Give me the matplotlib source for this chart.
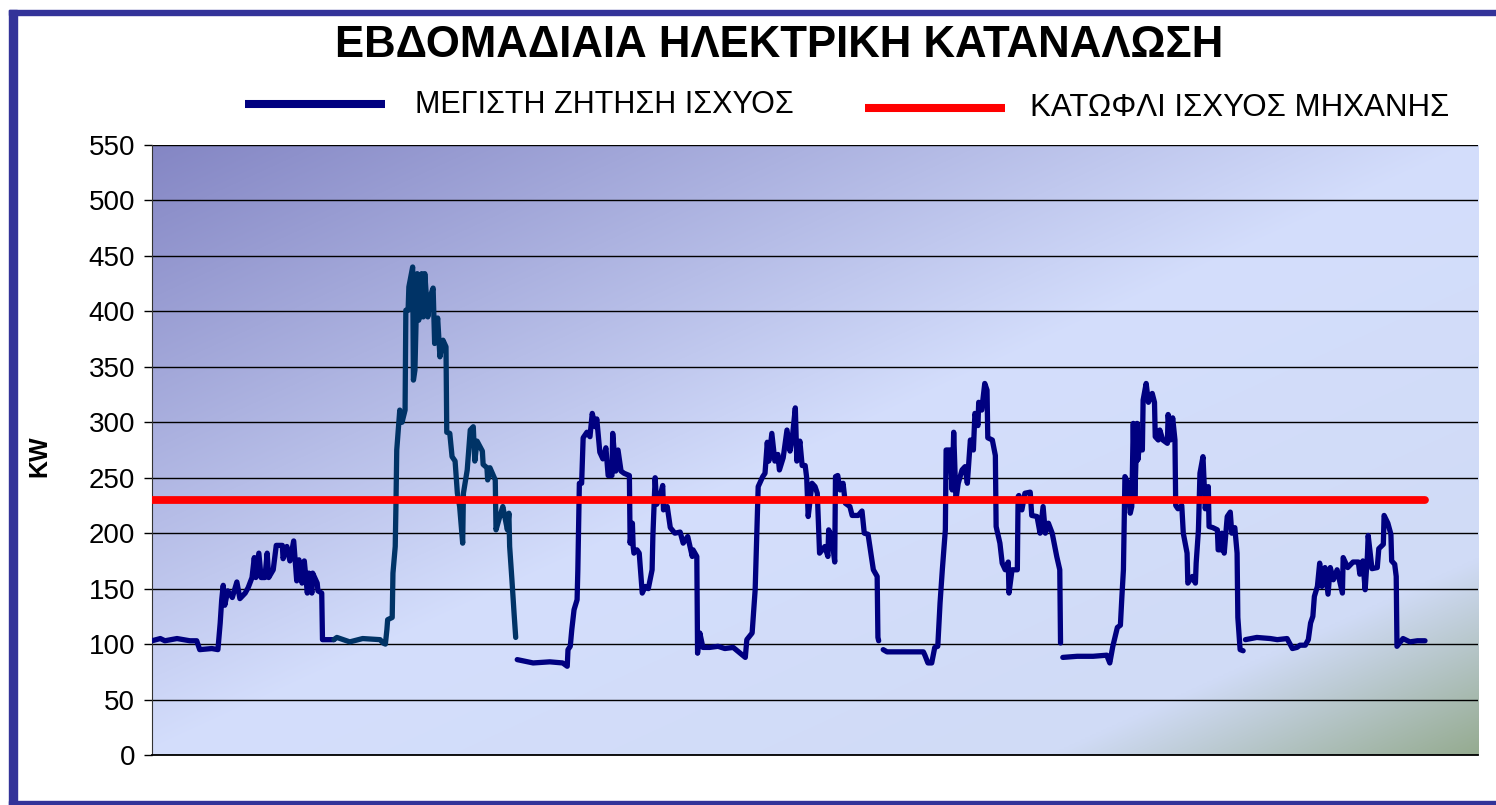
import numpy as np
import matplotlib
matplotlib.use("Agg")
import matplotlib.pyplot as plt
from matplotlib.lines import Line2D
from matplotlib.patches import Rectangle

plt.rcParams['font.family'] = ['Liberation Sans', 'DejaVu Sans']

TITLE = "ΕΒΔΟΜΑΔΙΑΙΑ ΗΛΕΚΤΡΙΚΗ ΚΑΤΑΝΑΛΩΣΗ"
NAME_DEMAND = "ΜΕΓΙΣΤΗ ΖΗΤΗΣΗ ΙΣΧΥΟΣ"
NAME_LIMIT = "ΚΑΤΩΦΛΙ ΙΣΧΥΟΣ ΜΗΧΑΝΗΣ"
Y_LABEL = "KW"
Y_TICKS = [0, 50, 100, 150, 200, 250, 300, 350, 400, 450, 500, 550]

# machine power threshold, drawn across the whole week
LIMIT_HOURS = [0, 168]
LIMIT_KW = [230, 230]

# max power demand, hours from start of week / kW, one pair per day
d1_h = [0.0, 1.1, 1.7, 3.3, 5.0, 5.9, 6.3, 7.9, 8.7, 9.0, 9.2, 9.4, 9.6, 10.0, 10.6,
        11.2, 11.6, 12.3, 12.7, 13.2, 13.5, 13.7, 14.1, 14.4, 14.9, 15.2, 15.4, 16.0,
        16.4, 17.2, 17.3, 17.8, 18.2, 18.7, 19.1, 19.4, 19.8, 20.1, 20.5, 20.7, 21.1,
        21.2, 21.8, 21.9, 22.4, 22.5, 24.0]
d1_kw = [103, 105, 103, 105, 103, 103, 95, 96, 95, 119, 140, 153, 135, 148, 142,
         156, 141, 146, 151, 160, 178, 160, 182, 160, 160, 182, 160, 167,
         189, 189, 177, 188, 175, 193, 157, 176, 155, 175, 146, 164, 146,
         164, 155, 148, 146, 104, 104]

d2_h = [24.0, 24.4, 26.1, 27.8, 30.1, 30.5, 30.8, 31.0, 31.1, 31.7, 31.8, 32.1, 32.2,
        32.3, 32.7, 33.0, 33.4, 33.5, 33.8, 33.9, 34.4, 34.5, 34.7, 35.0, 35.2, 35.6,
        35.8, 36.0, 36.4, 36.7, 37.1, 37.3, 37.7, 38.0, 38.4, 38.8, 38.9, 39.3, 39.6,
        40.0, 40.3, 40.6, 41.0, 41.1, 41.6, 42.0, 42.4, 42.6, 42.9, 43.6, 43.7, 44.2,
        44.3, 44.6, 45.3, 45.4, 45.9, 46.3, 46.9, 47.1, 47.2, 47.5, 47.8, 48.0]
d2_kw = [104, 106, 102, 105, 104, 101, 100, 113, 122, 124, 164, 188, 227,
         275, 311, 300, 311, 401, 401, 422, 440, 338, 347, 434, 392, 434,
         395, 434, 395, 413, 421, 371, 394, 359, 374, 368, 291, 290, 269,
         265, 236, 224, 191, 236, 257, 293, 296, 265, 283, 274, 262, 259,
         248, 259, 248, 203, 215, 224, 203, 218, 188, 158, 126, 106]

d3_h = [48.2, 50.3, 52.5, 54.2, 54.8, 54.9, 55.2, 55.4, 55.7, 56.1, 56.2, 56.4, 56.7,
        56.9, 57.4, 57.8, 58.1, 58.5, 58.7, 59.1, 59.5, 59.9, 60.2, 60.7, 60.8, 61.2,
        61.5, 61.9, 62.3, 63.0, 63.1, 63.4, 63.5, 63.6, 64.0, 64.3, 64.7, 65.1, 65.5,
        66.0, 66.1, 66.4, 66.6, 67.0, 67.4, 67.5, 68.0, 68.4, 69.0, 69.7, 70.1, 70.7,
        71.3, 71.4, 71.9, 72.0]
d3_kw = [86, 83, 84, 83, 80, 95, 98, 113, 131, 140, 167, 245, 245,
         286, 291, 287, 308, 296, 303, 273, 267, 277, 252, 252, 290, 256,
         275, 256, 254, 252, 191, 209, 188, 182, 185, 182, 146, 152, 150,
         167, 197, 250, 226, 232, 243, 221, 224, 205, 200, 201, 191, 197,
         179, 185, 179, 92]

d4_h = [72.0, 72.3, 72.7, 73.6, 74.7, 75.6, 76.7, 78.3, 78.5, 79.2, 79.6, 80.0, 80.6,
        80.9, 81.2, 81.4, 81.8, 82.2, 82.6, 82.8, 83.3, 83.8, 84.2, 84.5, 84.9, 85.1,
        85.5, 85.8, 86.2, 86.4, 86.6, 87.1, 87.5, 87.8, 88.1, 88.8, 89.2, 89.3, 89.7,
        90.1, 90.2, 90.5, 90.8, 91.2, 91.5, 92.1, 92.4, 93.2, 93.7, 94.0, 94.5, 95.0,
        95.2, 95.7, 95.8, 95.9]
d4_kw = [92, 110, 97, 97, 98, 96, 97, 88, 104, 110, 149, 242, 251,
         254, 282, 265, 290, 265, 271, 257, 268, 293, 274, 286, 313, 265,
         283, 261, 261, 250, 215, 245, 242, 236, 182, 188, 179, 203, 197,
         174, 251, 252, 239, 245, 227, 224, 216, 216, 220, 200, 199, 176,
         167, 161, 106, 103]

d5_h = [96.5, 97.0, 98.7, 100.0, 101.8, 102.0, 102.4, 102.9, 103.3, 103.7, 104.0,
        104.3, 104.7, 104.8, 105.3, 105.6, 105.8, 106.1, 106.4, 106.9, 107.3, 107.6,
        108.0, 108.4, 108.6, 109.0, 109.1, 109.5, 109.9, 110.2, 110.3, 110.9, 111.3,
        111.4, 111.9, 112.2, 112.6, 113.0, 113.1, 113.5, 114.2, 114.3, 114.4, 114.8,
        115.2, 115.9, 116.1, 116.8, 117.2, 117.6, 117.9, 118.3, 118.8, 119.4, 119.8,
        119.9]
d5_kw = [95, 93, 93, 93, 93, 90, 83, 83, 97, 98, 137,
         167, 203, 275, 275, 239, 291, 230, 245, 257, 260, 245,
         284, 275, 308, 297, 318, 311, 335, 329, 286, 284, 270,
         206, 191, 173, 167, 174, 146, 167, 167, 233, 234, 221,
         236, 237, 216, 215, 200, 224, 200, 209, 200, 179, 167,
         101]

d6_h = [120.2, 122.1, 124.2, 126.0, 126.4, 126.8, 127.4, 127.8, 128.0, 128.2, 128.4,
        128.8, 129.1, 129.3, 129.5, 129.7, 130.0, 130.1, 130.4, 130.7, 130.8, 131.2,
        131.5, 132.0, 132.3, 132.4, 132.8, 133.0, 133.4, 134.0, 134.1, 134.4, 134.7,
        135.0, 135.1, 135.4, 135.9, 136.1, 136.6, 136.7, 137.3, 137.7, 137.8, 138.1,
        138.3, 138.7, 139.0, 139.4, 139.5, 140.0, 140.6, 140.7, 141.0, 141.2, 141.5,
        141.9, 142.3, 142.5, 142.9, 143.2, 143.3, 143.6, 144.0]
d6_kw = [88, 89, 89, 90, 83, 98, 115, 117, 143, 167, 251,
         245, 218, 224, 299, 230, 299, 266, 284, 275, 320, 335,
         318, 326, 318, 287, 284, 293, 284, 281, 307, 284, 304,
         284, 225, 222, 225, 200, 182, 155, 161, 155, 173, 203,
         254, 269, 222, 242, 206, 205, 203, 185, 185, 200, 182,
         215, 219, 200, 205, 182, 124, 95, 94]

d7_h = [144.3, 145.8, 147.6, 148.5, 149.8, 150.5, 151.1, 151.5, 152.2, 152.6, 152.9,
        153.2, 153.4, 153.8, 154.1, 154.4, 154.8, 155.2, 155.5, 155.9, 156.4, 157.1,
        157.2, 157.8, 158.5, 159.2, 159.4, 159.8, 160.1, 160.4, 160.5, 161.0, 161.7,
        161.9, 162.5, 162.6, 163.1, 163.5, 163.6, 164.0, 164.2, 164.3, 165.1, 166.0,
        167.0, 168.0]
d7_kw = [104, 106, 105, 104, 105, 96, 97, 99, 99, 104, 119,
         125, 143, 152, 173, 152, 169, 145, 169, 158, 167, 146,
         178, 169, 174, 174, 163, 175, 149, 180, 198, 168, 169,
         186, 190, 216, 209, 199, 175, 172, 161, 98, 105, 102,
         103, 103]

NAVY = "#000080"
NAVY_DAY2 = "#003366"
RED = "#ff0000"
FRAME = "#333399"

fig = plt.figure(figsize=(14.96, 8.05), dpi=100)
ax = fig.add_axes([0.1016, 0.0621, 0.8864, 0.7578])
ax.set_xlim(0, 175)
ax.set_ylim(0, 550)

# plot-area gradient: dark blue-violet top left, pale blue middle, grey-green bottom right
nx, ny = 500, 250
gx, gy = np.meshgrid(np.linspace(0, 1, nx), np.linspace(0, 1, ny))
s = (gx + 1 - gy) / 2
stops = [0.0, 0.5, 0.84, 1.0]
cols = np.array([[0x84, 0x86, 0xc4], [0xd4, 0xde, 0xfc], [0xd0, 0xdb, 0xf6], [0x95, 0xab, 0x90]]) / 255
img = np.dstack([np.interp(s, stops, cols[:, k]) for k in range(3)])
ax.imshow(img, extent=[0, 1, 0, 1], transform=ax.transAxes, origin="lower",
          aspect="auto", zorder=0, interpolation="bilinear")

ax.set_axisbelow(True)
ax.yaxis.grid(True, color="black", lw=1.0)
ax.set_yticks(Y_TICKS)
ax.set_xticks([])
ax.tick_params(axis="y", length=6, width=1, direction="out", labelsize=20, pad=6)
for side in ("top", "right"):
    ax.spines[side].set_visible(False)
ax.spines["left"].set_color("#333333")
ax.spines["bottom"].set_color("black")
ax.spines["bottom"].set_linewidth(1.3)

days = [(d1_h, d1_kw, NAVY), (d2_h, d2_kw, NAVY_DAY2), (d3_h, d3_kw, NAVY),
        (d4_h, d4_kw, NAVY), (d5_h, d5_kw, NAVY), (d6_h, d6_kw, NAVY), (d7_h, d7_kw, NAVY)]
for h, kw, c in days:
    ax.plot(h, kw, color=c, lw=3.8, solid_joinstyle="round", solid_capstyle="round", zorder=3)

ax.plot(LIMIT_HOURS, LIMIT_KW, color=RED, lw=5.6, solid_capstyle="round", zorder=4)

fig.text(0.5207, 0.944, TITLE, ha="center", va="center", fontsize=31.5, fontweight="bold")
fig.text(0.026, 0.433, Y_LABEL, rotation=90, ha="center", va="center",
         fontsize=18, fontweight="bold")

# legend, laid out like the original one
fig.add_artist(Line2D([0.1638, 0.2574], [0.8708, 0.8708], color=NAVY, lw=5.8,
                      solid_capstyle="butt", transform=fig.transFigure))
fig.text(0.2774, 0.8696, NAME_DEMAND, ha="left", va="center", fontsize=22)
fig.add_artist(Line2D([0.5782, 0.6718], [0.8658, 0.8658], color=RED, lw=5.8,
                      solid_capstyle="butt", transform=fig.transFigure))
fig.text(0.6885, 0.8658, NAME_LIMIT, ha="left", va="center", fontsize=22.5)

# chart frame
fig.add_artist(Rectangle((0.006, 0.0), 0.0054, 0.9876, color=FRAME, transform=fig.transFigure))
fig.add_artist(Rectangle((0.006, 0.9814), 0.994, 0.0062, color=FRAME, transform=fig.transFigure))
fig.add_artist(Rectangle((0.006, 0.0), 0.994, 0.005, color=FRAME, transform=fig.transFigure))

fig.savefig("out.png", dpi=100)
